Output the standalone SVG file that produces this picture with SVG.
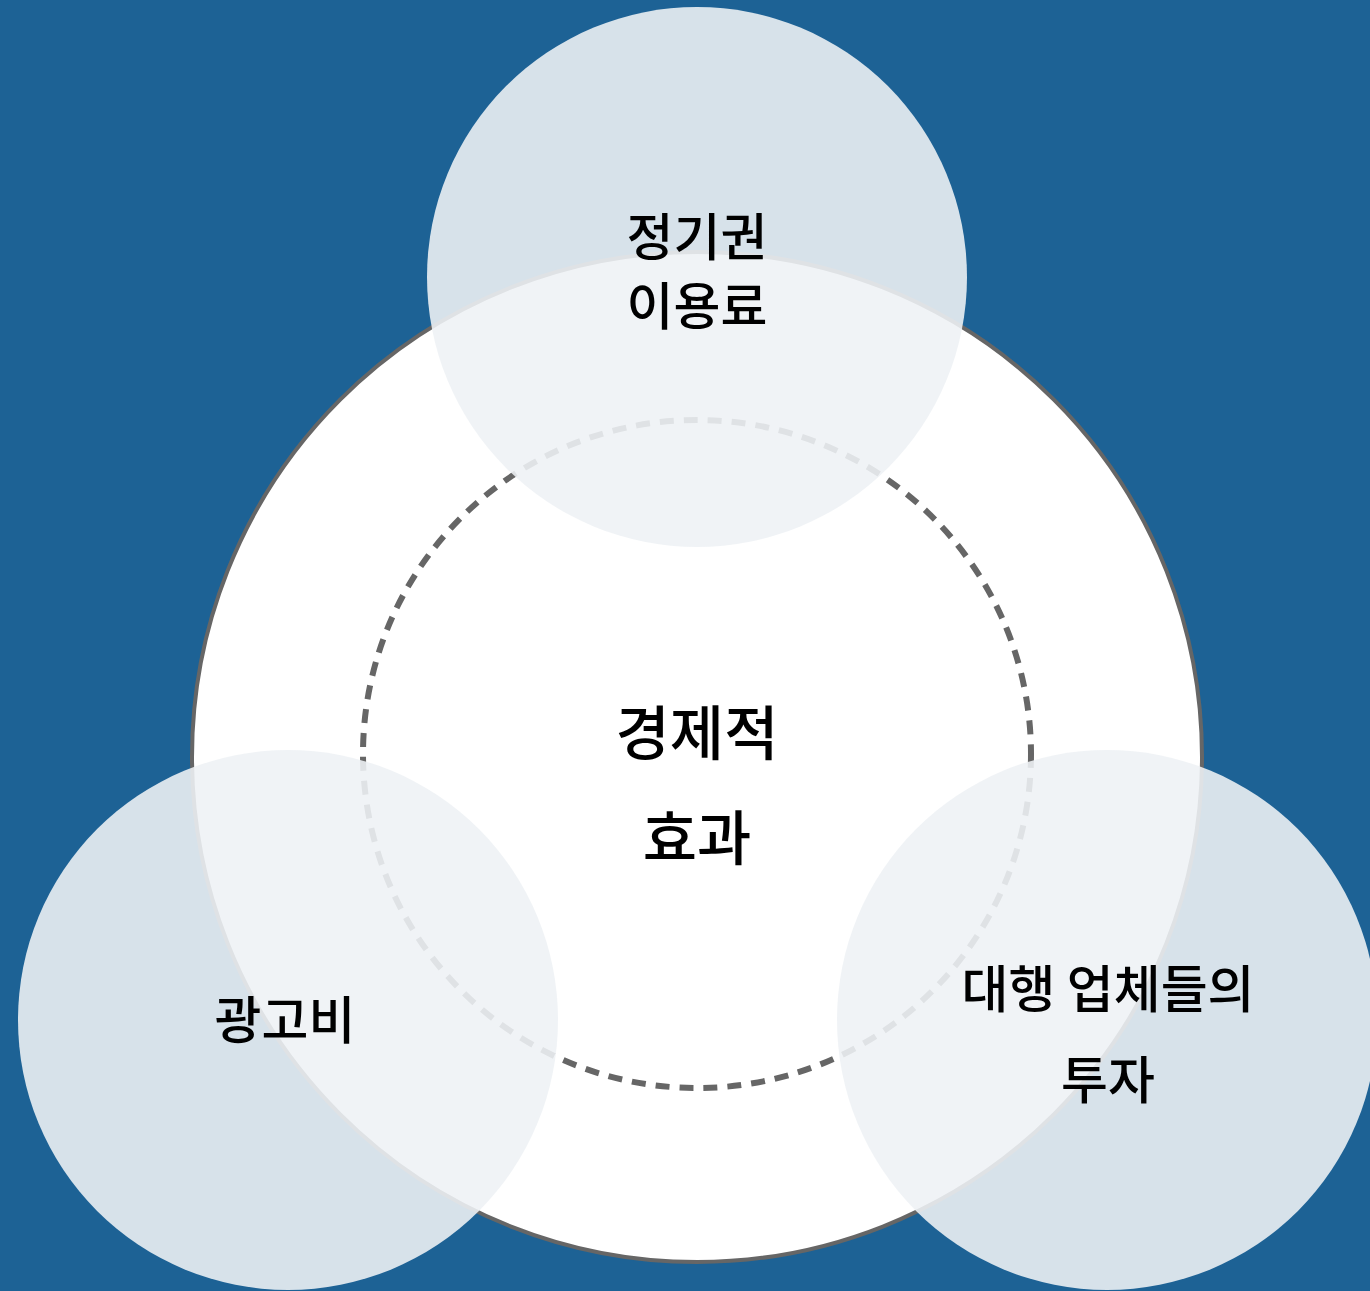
<svg xmlns="http://www.w3.org/2000/svg" width="1370" height="1291" viewBox="0 0 1370 1291">
<style>
.lbl{font-family:"Noto Sans CJK KR","Noto Sans",sans-serif;fill:#000;text-anchor:middle;font-weight:500}
.s{font-size:51px}
.b{font-size:59px}
.sat{fill:#eef1f5;fill-opacity:0.89}
</style>
<rect x="0" y="0" width="1370" height="1291" fill="#1d6295"/>
<g id="center">
<circle cx="697" cy="757" r="505" fill="#fff" stroke="#666" stroke-width="4"/>
</g>
<g id="connectors">
<circle cx="697" cy="754" r="334" fill="none" stroke="#666" stroke-width="6" stroke-dasharray="14 10"/>
</g>
<g id="node-top">
<circle class="sat" cx="697" cy="277" r="270"/>
<text class="lbl s" x="697" y="256">정기권</text>
<text class="lbl s" x="697" y="325">이용료</text>
</g>
<g id="node-left">
<circle class="sat" cx="288" cy="1020" r="270"/>
<text class="lbl s" x="285" y="1039">광고비</text>
</g>
<g id="node-right">
<circle class="sat" cx="1107" cy="1020" r="270"/>
<text class="lbl s" x="1108" y="1008">대행 업체들의</text>
<text class="lbl s" x="1108" y="1099">투자</text>
</g>
<g id="center-label">
<text class="lbl b" x="697" y="755">경제적</text>
<text class="lbl b" x="697" y="860">효과</text>
</g>
</svg>
